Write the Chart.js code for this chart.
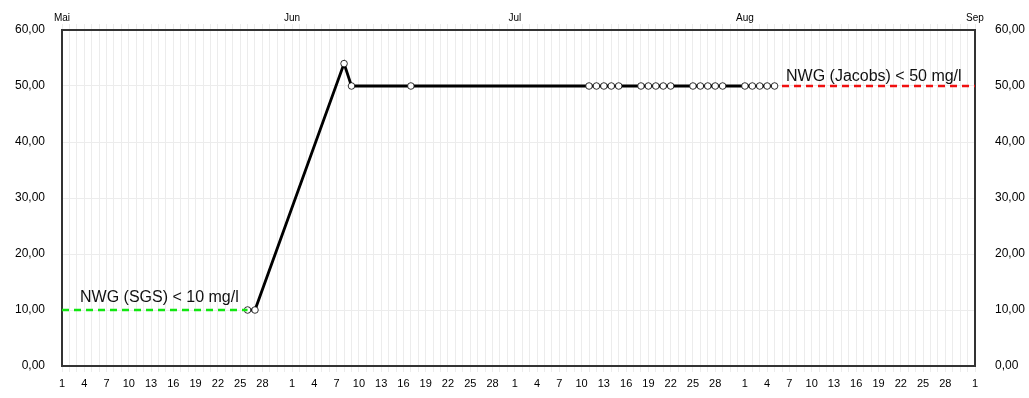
<!DOCTYPE html>
<html>
<head>
<meta charset="utf-8">
<script src="https://cdn.jsdelivr.net/npm/chart.js@4.4.0/dist/chart.umd.min.js"></script>
<style>
  html, body { margin: 0; padding: 0; background: #fff; }
  canvas { display: block; }
</style>
</head>
<body>
<canvas id="chart" width="1029" height="398"></canvas>
<script>
// Messwerte (mg/l)
const messDaten = ['2023-05-26', '2023-05-27', '2023-06-08', '2023-06-09', '2023-06-17',
  '2023-07-11', '2023-07-12', '2023-07-13', '2023-07-14', '2023-07-15',
  '2023-07-18', '2023-07-19', '2023-07-20', '2023-07-21', '2023-07-22',
  '2023-07-25', '2023-07-26', '2023-07-27', '2023-07-28', '2023-07-29',
  '2023-08-01', '2023-08-02', '2023-08-03', '2023-08-04', '2023-08-05'];
const messWerte = [10, 10, 54, 50, 50,
  50, 50, 50, 50, 50,
  50, 50, 50, 50, 50,
  50, 50, 50, 50, 50,
  50, 50, 50, 50, 50];

// Grenzwerte
const sgsDaten = ['2023-05-01', '2023-05-26'];
const sgsWerte = [10, 10];
const sgsText = 'NWG (SGS) < 10 mg/l';
const jacobsDaten = ['2023-08-06', '2023-09-01'];
const jacobsWerte = [50, 50];
const jacobsText = 'NWG (Jacobs) < 50 mg/l';

// Achsen
const startDatum = '2023-05-01';
const endDatum = '2023-09-01';
const monatNamen = ['Mai', 'Jun', 'Jul', 'Aug', 'Sep'];
const monatDaten = ['2023-05-01', '2023-06-01', '2023-07-01', '2023-08-01', '2023-09-01'];
const yTicks = [0, 10, 20, 30, 40, 50, 60];

const tag = (d) => Math.round((Date.parse(d) - Date.parse(startDatum)) / 86400000);
const maxTag = tag(endDatum);
const punkte = (daten, werte) => daten.map((d, i) => ({ x: tag(d), y: werte[i] }));

const fmtY = (v) => v.toFixed(2).replace('.', ',');
const font = 'Liberation Sans, Arial, sans-serif';
const gitter = '#ececec';

// Tageszahl fuer die untere Achse
const tagImMonat = (i) => new Date(Date.parse(startDatum) + i * 86400000).getUTCDate();

const grenzText = {
  id: 'grenzText',
  afterDatasetsDraw(chart) {
    const c = chart.ctx;
    const x = chart.scales.x, y = chart.scales.y;
    c.save();
    c.fillStyle = '#111';
    c.font = '16px ' + font;
    c.textBaseline = 'alphabetic';
    c.fillText(sgsText, x.getPixelForValue(tag(sgsDaten[0])) + 18, y.getPixelForValue(sgsWerte[0]) - 8);
    c.fillText(jacobsText, x.getPixelForValue(tag(jacobsDaten[0])) + 4, y.getPixelForValue(jacobsWerte[0]) - 5);
    c.restore();
  }
};

const alleTage = (axis) => {
  axis.ticks = [];
  for (let i = 0; i <= maxTag; i++) axis.ticks.push({ value: i });
};

new Chart(document.getElementById('chart'), {
  type: 'line',
  data: {
    datasets: [
      {
        data: punkte(sgsDaten, sgsWerte),
        borderColor: '#11e611',
        borderWidth: 2.5,
        borderDash: [7, 5],
        pointRadius: 0
      },
      {
        data: punkte(jacobsDaten, jacobsWerte),
        borderColor: '#f01010',
        borderWidth: 2.5,
        borderDash: [7, 5],
        pointRadius: 0
      },
      {
        data: punkte(messDaten, messWerte),
        borderColor: '#000',
        borderWidth: 2.8,
        tension: 0,
        pointRadius: 3.3,
        pointBorderWidth: 0.8,
        pointBorderColor: '#000',
        pointBackgroundColor: '#fff'
      }
    ]
  },
  options: {
    responsive: false,
    animation: false,
    devicePixelRatio: 1,
    layout: { padding: 0 },
    plugins: {
      legend: { display: false },
      tooltip: { enabled: false }
    },
    scales: {
      x: {
        type: 'linear',
        position: 'bottom',
        min: 0,
        max: maxTag,
        afterBuildTicks: alleTage,
        afterFit: (s) => { s.height = 32; },
        grid: { color: gitter, lineWidth: 1, drawTicks: true, tickLength: 6 },
        border: { display: true, color: '#333', width: 2 },
        ticks: {
          autoSkip: false,
          maxRotation: 0,
          padding: 5,
          color: '#000',
          font: { family: font, size: 11 },
          callback: (v) => {
            const d = tagImMonat(v);
            return (d - 1) % 3 === 0 && d <= 28 ? String(d) : '';
          }
        }
      },
      x2: {
        type: 'linear',
        position: 'top',
        min: 0,
        max: maxTag,
        afterBuildTicks: alleTage,
        afterFit: (s) => { s.height = 30; },
        grid: { color: gitter, drawOnChartArea: false, drawTicks: true, tickLength: 6 },
        border: { display: true, color: '#333', width: 2 },
        ticks: {
          autoSkip: false,
          maxRotation: 0,
          padding: 0,
          color: '#000',
          font: { family: font, size: 10 },
          callback: (v) => {
            const k = monatDaten.findIndex((d) => tag(d) === v);
            return k >= 0 ? monatNamen[k] : '';
          }
        }
      },
      y: {
        position: 'left',
        min: 0,
        max: 60,
        afterBuildTicks: (a) => { a.ticks = yTicks.map((v) => ({ value: v })); },
        afterFit: (s) => { s.width = 62; },
        grid: { color: gitter, drawTicks: false },
        border: { display: true, color: '#333', width: 2 },
        ticks: { padding: 17, color: '#000', font: { family: font, size: 12 }, callback: (v) => fmtY(v) }
      },
      y2: {
        position: 'right',
        min: 0,
        max: 60,
        afterBuildTicks: (a) => { a.ticks = yTicks.map((v) => ({ value: v })); },
        afterFit: (s) => { s.width = 54; },
        grid: { drawOnChartArea: false, drawTicks: false },
        border: { display: true, color: '#333', width: 2 },
        ticks: { padding: 20, color: '#000', font: { family: font, size: 12 }, callback: (v) => fmtY(v) }
      }
    }
  },
  plugins: [grenzText]
});
</script>
</body>
</html>
